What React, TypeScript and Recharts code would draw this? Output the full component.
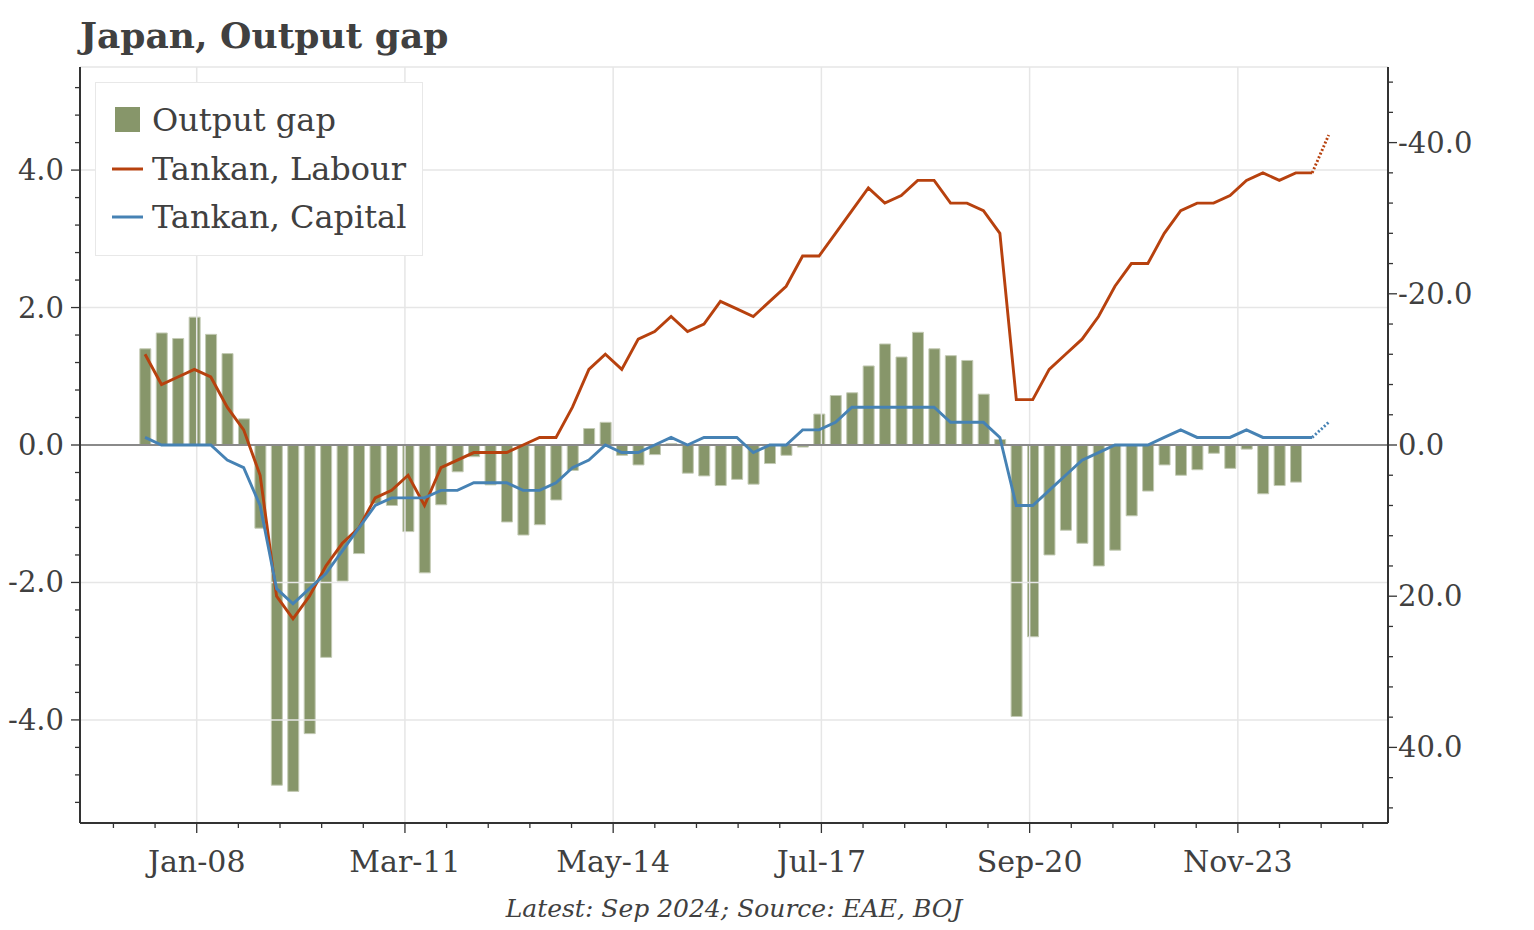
import React from 'react';
import { ComposedChart, Bar, Line, XAxis, YAxis, ReferenceLine, Legend } from 'recharts';

// Quarterly observations, first quarter = 2007 Q1
const outputGap = [
  1.40, 1.63, 1.55, 1.86, 1.61, 1.33, 0.38, -1.21, -4.95, -5.04,
  -4.20, -3.09, -1.98, -1.58, -0.85, -0.88, -1.26, -1.86, -0.87, -0.39,
  -0.17, -0.58, -1.12, -1.31, -1.16, -0.80, -0.37, 0.24, 0.33, -0.15,
  -0.29, -0.14, 0.02, -0.41, -0.45, -0.59, -0.50, -0.57, -0.27, -0.15,
  -0.03, 0.45, 0.72, 0.76, 1.15, 1.47, 1.28, 1.64, 1.40, 1.30,
  1.23, 0.74, 0.08, -3.95, -2.79, -1.60, -1.24, -1.43, -1.76, -1.53,
  -1.03, -0.67, -0.29, -0.44, -0.36, -0.12, -0.34, -0.06, -0.71, -0.59,
  -0.54,
];

const tankanLabour = [
  -12, -8, -9, -10, -9, -5, -2, 4, 20, 23,
  20, 16, 13, 11, 7, 6, 4, 8, 3, 2,
  1, 1, 1, 0, -1, -1, -5, -10, -12, -10,
  -14, -15, -17, -15, -16, -19, -18, -17, -19, -21,
  -25, -25, -28, -31, -34, -32, -33, -35, -35, -32,
  -32, -31, -28, -6, -6, -10, -12, -14, -17, -21,
  -24, -24, -28, -31, -32, -32, -33, -35, -36, -35,
  -36, -36,
];

const tankanCapital = [
  -1, 0, 0, 0, 0, 2, 3, 8, 19, 21,
  19, 17, 14, 11, 8, 7, 7, 7, 6, 6,
  5, 5, 5, 6, 6, 5, 3, 2, 0, 1,
  1, 0, -1, 0, -1, -1, -1, 1, 0, 0,
  -2, -2, -3, -5, -5, -5, -5, -5, -5, -3,
  -3, -3, -1, 8, 8, 6, 4, 2, 1, 0,
  0, 0, -1, -2, -1, -1, -1, -2, -1, -1,
  -1, -1,
];

// Tankan forecasts (last actual -> forecast)
const labourForecast = [-36, -41];
const capitalForecast = [-1, -3];

const xTickLabels = ['Jan-08', 'Mar-11', 'May-14', 'Jul-17', 'Sep-20', 'Nov-23'];
const xTickMonths = [12, 50, 88, 126, 164, 202]; // months since Jan 2007

const FONT = '"DejaVu Serif", serif';
const TEXT = '#404040';
const BAR = '#87966a';
const LABOUR = '#b7410e';
const CAPITAL = '#4682b4';
const GRID = '#e6e6e6';
const AXIS = '#333333';

const FIRST_MONTH = 2.57; // position of 2007 Q1 observation
const nPoints = tankanLabour.length + 1;
const data = Array.from({ length: nPoints }, (_, i) => {
  const fi = i - (tankanLabour.length - 1);
  return {
    m: FIRST_MONTH + 3 * i,
    gap: i < outputGap.length ? outputGap[i] : null,
    labour: i < tankanLabour.length ? tankanLabour[i] : null,
    capital: i < tankanCapital.length ? tankanCapital[i] : null,
    labourF: fi >= 0 && fi < labourForecast.length ? labourForecast[fi] : null,
    capitalF: fi >= 0 && fi < capitalForecast.length ? capitalForecast[fi] : null,
  };
});

const xMinor: number[] = [];
for (let k = -2; k <= 28; k++) {
  const v = Math.round((12 + k * 7.6) * 100) / 100;
  if (v > -9.3 && v < 229.4) xMinor.push(v);
}
const leftTicks: number[] = [];
for (let k = -13; k <= 13; k++) leftTicks.push(Math.round(k * 4) / 10);
const rightTicks: number[] = [];
for (let k = -12; k <= 12; k++) rightTicks.push(k * 4);
const leftMajor = [-4, -2, 0, 2, 4];

const XTick = (props: any) => {
  const { x, y, payload } = props;
  const idx = xTickMonths.findIndex((t) => Math.abs(t - payload.value) < 0.01);
  const major = idx >= 0;
  return (
    <g>
      <line x1={x} x2={x} y1={y} y2={y + (major ? 10 : 5)} stroke={AXIS} strokeWidth={1.3} />
      {major && (
        <text x={x} y={y + 49} textAnchor="middle" fontFamily={FONT} fontSize={30} fill={TEXT}>
          {xTickLabels[idx]}
        </text>
      )}
    </g>
  );
};

const LeftTick = (props: any) => {
  const { x, y, payload } = props;
  const v = payload.value;
  const major = Math.abs(v / 2 - Math.round(v / 2)) < 0.001;
  return (
    <g>
      <line x1={x - (major ? 9 : 5)} x2={x} y1={y} y2={y} stroke={AXIS} strokeWidth={1.3} />
      {major && (
        <text x={x - 16} y={y + 10} textAnchor="end" fontFamily={FONT} fontSize={29} fill={TEXT}>
          {v.toFixed(1)}
        </text>
      )}
    </g>
  );
};

const RightTick = (props: any) => {
  const { x, y, payload } = props;
  const v = payload.value;
  const major = v % 20 === 0;
  return (
    <g>
      <line x1={x} x2={x + (major ? 9 : 5)} y1={y} y2={y} stroke={AXIS} strokeWidth={1.3} />
      {major && (
        <text x={x + 10} y={y + 10} textAnchor="start" fontFamily={FONT} fontSize={29} fill={TEXT}>
          {v.toFixed(1)}
        </text>
      )}
    </g>
  );
};

const legendItems = [
  { name: 'Output gap', color: BAR, kind: 'bar' },
  { name: 'Tankan, Labour', color: LABOUR, kind: 'line' },
  { name: 'Tankan, Capital', color: CAPITAL, kind: 'line' },
];

const renderLegend = () => (
  <div
    style={{
      width: 326,
      height: 159,
      border: '1px solid #e8e8e8',
      background: '#ffffff',
      boxSizing: 'content-box',
      paddingTop: 13,
    }}
  >
    {legendItems.map((it) => (
      <div key={it.name} style={{ display: 'flex', alignItems: 'center', height: 48.5 }}>
        <svg width={56} height={30} style={{ flex: 'none' }}>
          {it.kind === 'bar' ? (
            <rect x={19} y={2} width={25} height={25} fill={it.color} />
          ) : (
            <line x1={16} x2={47} y1={15} y2={15} stroke={it.color} strokeWidth={3} />
          )}
        </svg>
        <span style={{ fontFamily: FONT, fontSize: 32, color: TEXT, whiteSpace: 'nowrap' }}>{it.name}</span>
      </div>
    ))}
  </div>
);

export default function App() {
  return (
    <div style={{ position: 'absolute', left: 0, top: 0, width: 1534, height: 930, background: '#fff' }}>
      <div
        style={{
          position: 'absolute',
          left: 80,
          top: 14,
          fontFamily: FONT,
          fontWeight: 'bold',
          fontSize: 36,
          color: TEXT,
          whiteSpace: 'nowrap',
        }}
      >
        Japan, Output gap
      </div>
      <ComposedChart
        width={1534}
        height={930}
        data={data}
        margin={{ top: 67, right: 0, bottom: 0, left: 0 }}
      >
        <XAxis
          xAxisId="x"
          type="number"
          dataKey="m"
          domain={[-9.3, 229.4]}
          allowDataOverflow
          ticks={[...xMinor]}
          interval={0}
          height={107}
          tickSize={0}
          tickMargin={0}
          tickLine={false}
          axisLine={{ stroke: AXIS, strokeWidth: 2 }}
          tick={<XTick />}
        />
        <YAxis
          yAxisId="left"
          orientation="left"
          domain={[-5.5, 5.5]}
          allowDataOverflow
          ticks={leftTicks}
          interval={0}
          width={80}
          tickSize={0}
          tickMargin={0}
          tickLine={false}
          axisLine={{ stroke: AXIS, strokeWidth: 2 }}
          tick={<LeftTick />}
        />
        <YAxis
          yAxisId="right"
          orientation="right"
          reversed
          domain={[-50, 50]}
          allowDataOverflow
          ticks={rightTicks}
          interval={0}
          width={146}
          tickSize={0}
          tickMargin={0}
          tickLine={false}
          axisLine={{ stroke: AXIS, strokeWidth: 2 }}
          tick={<RightTick />}
        />
        <ReferenceLine xAxisId="x" yAxisId="left" y={5.5} stroke={GRID} strokeWidth={1.5} />
        {leftMajor.map((v) => (
          <ReferenceLine key={'h' + v} xAxisId="x" yAxisId="left" y={v} stroke={GRID} strokeWidth={1.5} />
        ))}
        {xTickMonths.map((v) => (
          <ReferenceLine key={'v' + v} xAxisId="x" yAxisId="left" x={v} stroke={GRID} strokeWidth={1.5} />
        ))}
        <Bar
          xAxisId="x"
          yAxisId="left"
          dataKey="gap"
          name="Output gap"
          fill={BAR}
          stroke="#c3cab4"
          strokeWidth={1}
          barSize={11}
          isAnimationActive={false}
        />
        <ReferenceLine xAxisId="x" yAxisId="left" y={0} stroke="#8a8a8a" strokeWidth={2} />
        <Line
          xAxisId="x"
          yAxisId="right"
          dataKey="labour"
          name="Tankan, Labour"
          stroke={LABOUR}
          strokeWidth={2.9}
          dot={false}
          isAnimationActive={false}
        />
        <Line
          xAxisId="x"
          yAxisId="right"
          dataKey="capital"
          name="Tankan, Capital"
          stroke={CAPITAL}
          strokeWidth={2.9}
          dot={false}
          isAnimationActive={false}
        />
        <Line
          xAxisId="x"
          yAxisId="right"
          dataKey="labourF"
          stroke={LABOUR}
          strokeWidth={2.9}
          strokeDasharray="2 2"
          dot={false}
          legendType="none"
          isAnimationActive={false}
        />
        <Line
          xAxisId="x"
          yAxisId="right"
          dataKey="capitalF"
          stroke={CAPITAL}
          strokeWidth={2.9}
          strokeDasharray="2 2"
          dot={false}
          legendType="none"
          isAnimationActive={false}
        />
        <Legend
          layout="vertical"
          align="center"
          verticalAlign="middle"
          content={renderLegend}
          wrapperStyle={{ position: 'absolute', left: 95, top: 82, width: 328, height: 174 }}
        />
      </ComposedChart>
      <div
        style={{
          position: 'absolute',
          left: 0,
          width: 1468,
          top: 894,
          textAlign: 'center',
          fontFamily: FONT,
          fontStyle: 'italic',
          fontSize: 25,
          color: TEXT,
        }}
      >
        Latest: Sep 2024; Source: EAE, BOJ
      </div>
    </div>
  );
}
